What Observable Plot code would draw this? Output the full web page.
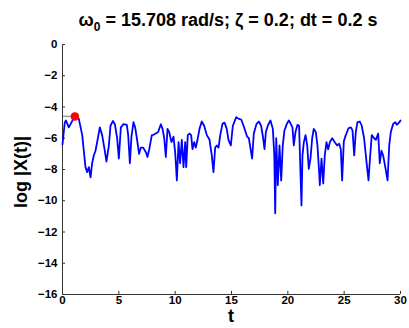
<!DOCTYPE html>
<html>
<head>
<meta charset="utf-8">
<script src="https://cdn.jsdelivr.net/npm/d3@7"></script>
<script src="https://cdn.jsdelivr.net/npm/@observablehq/plot@0.6"></script>
<style>
  html, body { margin: 0; padding: 0; background: #fff; }
  #chart svg { display: block; }
</style>
</head>
<body>
<div id="chart"></div>
<script>
// Response time samples (s) and log-magnitude of the response
const tValues = [
  0.0, 0.2, 0.3, 0.56, 0.86, 1.1, 1.45, 1.75, 2.04, 2.19, 2.34, 2.49, 2.63, 2.78, 2.93,
  3.14, 3.31, 3.52, 3.73, 3.9, 4.11, 4.26, 4.47, 4.65, 4.85, 5.0, 5.18, 5.41, 5.71, 5.83,
  5.98, 6.12, 6.3, 6.45, 6.6, 6.8, 6.95, 7.16, 7.4, 7.54, 7.7, 7.93, 8.08, 8.28, 8.49,
  8.73, 8.88, 9.03, 9.17, 9.32, 9.47, 9.67, 9.85, 10.0, 10.15, 10.3, 10.44, 10.59, 10.74, 10.89,
  10.98, 11.12, 11.27, 11.42, 11.54, 11.69, 11.83, 11.98, 12.16, 12.36, 12.57, 12.81, 13.05, 13.25, 13.4,
  13.55, 13.7, 13.85, 14.0, 14.2, 14.38, 14.58, 14.73, 14.94, 15.12, 15.42, 15.65, 15.86, 16.07, 16.39,
  16.54, 16.83, 16.98, 17.22, 17.43, 17.63, 17.81, 17.93, 18.05, 18.22, 18.46, 18.67, 18.8, 18.88, 18.97,
  19.11, 19.26, 19.41, 19.55, 19.7, 19.91, 20.09, 20.18, 20.41, 20.53, 20.68, 20.86, 21.0, 21.12, 21.21,
  21.3, 21.42, 21.57, 21.72, 21.86, 22.01, 22.16, 22.3, 22.48, 22.63, 22.78, 22.84, 22.99, 23.14, 23.28,
  23.43, 23.58, 23.73, 23.94, 24.17, 24.38, 24.56, 24.7, 24.82, 24.97, 25.14, 25.2, 25.38, 25.59, 25.74,
  25.89, 26.03, 26.18, 26.39, 26.56, 26.77, 26.98, 27.16, 27.31, 27.45, 27.66, 27.81, 28.02, 28.16, 28.31,
  28.46, 28.7, 28.85, 29.0, 29.14, 29.35, 29.53, 29.68, 29.9, 30.0
];
const logX = [
  -6.4, -5.0, -4.86, -5.3, -4.9, -4.6, -4.76, -5.8, -7.85, -8.17, -7.85, -8.5, -7.6, -7.1, -6.8,
  -6.0, -5.3, -5.8, -6.7, -7.5, -6.5, -5.2, -4.9, -5.1, -6.0, -7.3, -5.3, -5.1, -5.14, -5.8,
  -7.6, -5.9, -4.97, -5.3, -6.0, -7.0, -6.6, -6.6, -6.9, -7.2, -6.7, -5.8, -5.78, -5.7, -5.6,
  -5.1, -5.4, -6.0, -7.2, -5.4, -5.6, -6.25, -5.9, -6.9, -8.7, -6.25, -7.6, -6.1, -7.85, -6.25,
  -7.85, -5.8, -5.7, -5.8, -6.7, -6.25, -6.6, -6.1, -5.4, -4.93, -5.2, -5.8, -6.1, -7.1, -8.17,
  -6.6, -6.46, -6.6, -5.8, -5.08, -5.0, -5.4, -6.1, -6.46, -5.2, -4.65, -4.76, -4.8, -5.2, -5.9,
  -6.0, -7.3, -5.7, -5.08, -4.93, -5.2, -6.0, -6.7, -5.6, -5.2, -4.86, -5.4, -7.1, -10.8, -6.0,
  -9.0, -6.46, -8.7, -6.46, -5.5, -5.08, -4.86, -4.97, -5.3, -6.46, -5.6, -5.14, -5.2, -8.17, -10.3,
  -7.1, -6.25, -5.8, -6.46, -7.96, -7.3, -6.0, -5.4, -5.6, -6.46, -8.17, -9.0, -7.3, -8.9, -7.1,
  -6.25, -6.7, -6.25, -6.0, -6.25, -6.46, -6.35, -6.7, -8.7, -6.2, -5.8, -5.7, -5.36, -5.3, -5.5,
  -7.1, -5.6, -4.97, -4.93, -5.2, -6.0, -7.5, -8.7, -7.1, -5.8, -6.0, -6.1, -5.7, -7.6, -6.8,
  -7.1, -8.06, -8.7, -6.46, -5.6, -5.08, -4.97, -5.14, -4.97, -4.86
];

// Highlighted sample and its level guide
const markT = [1.1];
const markV = [-4.6];
const guideStart = [0.1];

// Axis ticks
const xTicks = [0, 5, 10, 15, 20, 25, 30];
const yTicks = [0, -2, -4, -6, -8, -10, -12, -14, -16];

const series = tValues.map((t, i) => ({t, v: logX[i]}));
const marker = markT.map((t, i) => ({t, v: markV[i], t0: guideStart[i]}));

const font = "'Liberation Sans', Arial, sans-serif";
const axisColor = "#333";

const chart = Plot.plot({
  width: 409,
  height: 328,
  marginLeft: 62,
  marginRight: 9,
  marginTop: 44,
  marginBottom: 34,
  style: {fontFamily: font, fontSize: "11.5px", fontWeight: "bold", color: "#000", background: "#fff"},
  x: {domain: [0, 30]},
  y: {domain: [-16, 0]},
  marks: [
    Plot.axisX(xTicks, {tickSize: 0, tickPadding: 1, label: null, fontWeight: "bold"}),
    Plot.axisY(yTicks, {tickSize: 0, tickPadding: 5, label: null, fontWeight: "bold"}),
    // inward tick marks
    Plot.ruleX(xTicks, {x: d => d, y1: -16, y2: -15.8, stroke: axisColor, strokeWidth: 1}),
    Plot.ruleY(yTicks, {y: d => d, x1: 0, x2: 0.27, stroke: axisColor, strokeWidth: 1}),
    Plot.ruleY([-16], {stroke: axisColor, strokeWidth: 1}),
    Plot.ruleX([0], {stroke: axisColor, strokeWidth: 1}),
    Plot.ruleY(marker, {y: "v", x1: "t0", x2: "t", stroke: "#999", strokeWidth: 1.5}),
    Plot.line(series, {x: "t", y: "v", stroke: "#0000ff", strokeWidth: 1.8}),
    Plot.dot(marker, {x: "t", y: "v", r: 3.5, fill: "#ff0000", stroke: "#ff0000"})
  ]
});

const svg = d3.select(chart);

// Title with subscripted omega
const title = svg.append("text")
  .attr("x", 228)
  .attr("y", 26)
  .attr("text-anchor", "middle")
  .attr("font-family", font)
  .attr("font-size", 18)
  .attr("font-weight", "bold")
  .attr("fill", "#000");
title.append("tspan").text("ω");
title.append("tspan").attr("font-size", 12).attr("dy", 5).text("0");
title.append("tspan").attr("dy", -5).text(" = 15.708 rad/s; ζ = 0.2; dt = 0.2 s");

// Axis titles
svg.append("text")
  .attr("x", 231)
  .attr("y", 322)
  .attr("text-anchor", "middle")
  .attr("font-family", font)
  .attr("font-size", 18)
  .attr("font-weight", "bold")
  .attr("fill", "#000")
  .text("t");

svg.append("text")
  .attr("transform", "translate(27,172) rotate(-90)")
  .attr("text-anchor", "middle")
  .attr("font-family", font)
  .attr("font-size", 18)
  .attr("font-weight", "bold")
  .attr("fill", "#000")
  .text("log |X(t)|");

document.getElementById("chart").appendChild(chart);
</script>
</body>
</html>
